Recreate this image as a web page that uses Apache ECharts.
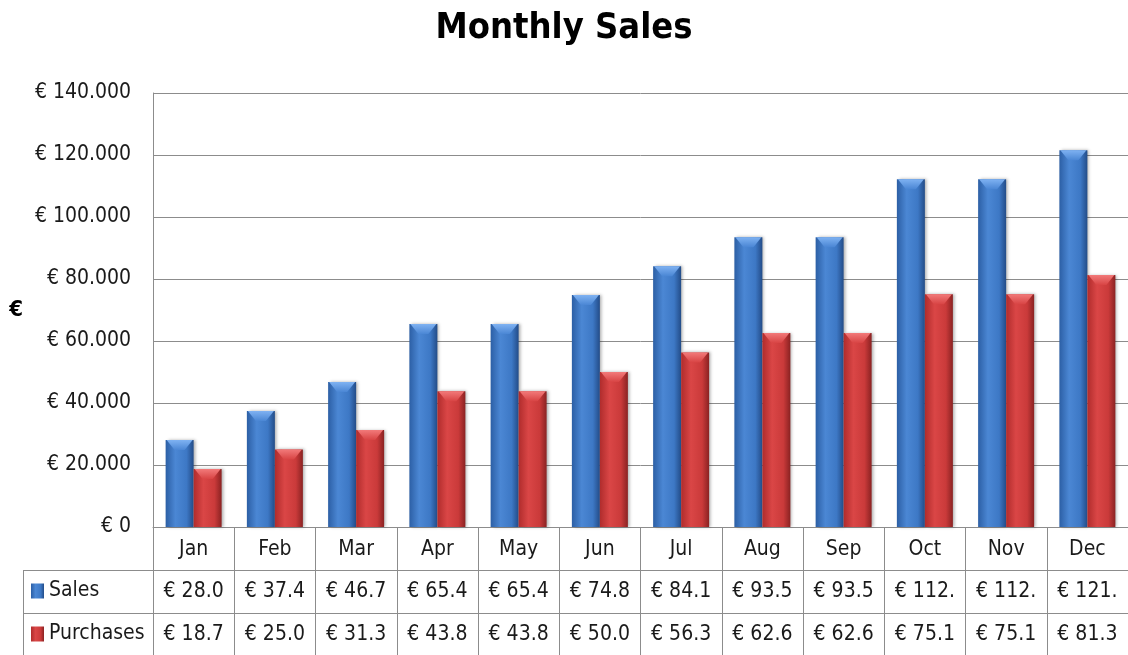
<!DOCTYPE html>
<html>
<head>
<meta charset="utf-8">
<script src="https://cdn.jsdelivr.net/npm/echarts@6/dist/echarts.min.js"></script>
<style>
  html, body { margin: 0; padding: 0; background: #fff; }
  #divChart { width: 1128px; height: 655px; }
</style>
</head>
<body>
<div id="divChart"></div>
<script>
var months = ['Jan', 'Feb', 'Mar', 'Apr', 'May', 'Jun', 'Jul', 'Aug', 'Sep', 'Oct', 'Nov', 'Dec'];
var salesValues = [28050, 37400, 46750, 65450, 65450, 74800, 84150, 93500, 93500, 112200, 112200, 121550];
var purchaseValues = [18700, 25030, 31300, 43800, 43800, 50000, 56300, 62600, 62600, 75100, 75100, 81300];
var yMin = 0, yMax = 140000, yStep = 20000;

var FONT = '"Liberation Sans Narrow", "DejaVu Sans Condensed", Roboto, sans-serif';
var TXT = '#1a1a1a';
var LINE = '#8c8c8c';
var BAR_W = 28;

function euro(v) {
    return String(Math.round(v)).replace(/\B(?=(\d{3})+(?!\d))/g, '.');
}
// the table cells clip the text, like in the original sheet
function cellText(v) {
    return ('€ ' + euro(v)).slice(0, 6);
}

function grad(c1, c2, c3, c4) {
    return new echarts.graphic.LinearGradient(0, 0, 1, 0, [
        { offset: 0, color: c1 },
        { offset: 0.35, color: c2 },
        { offset: 0.75, color: c3 },
        { offset: 1, color: c4 }
    ]);
}
function capGrad(c1, c2) {
    return new echarts.graphic.LinearGradient(0, 0, 0, 1, [
        { offset: 0, color: c1 },
        { offset: 1, color: c2 }
    ]);
}

var blueFill = grad('#2c5fa5', '#4b87d4', '#3d78c5', '#234c88');
var redFill = grad('#b02c2c', '#da4646', '#ca3a3a', '#8a2222');

// bar with a bevelled cap; side = -1 left of the category centre, 1 right
function bevelBar(side, fill, cap) {
    return function (params, api) {
        var top = api.coord([api.value(0), api.value(1)]);
        var base = api.coord([api.value(0), 0]);
        var x0 = side < 0 ? top[0] - BAR_W : top[0];
        var x1 = x0 + BAR_W;
        var y0 = top[1], y1 = base[1];
        var h = Math.min(10, (y1 - y0) / 2);
        return {
            type: 'group',
            children: [
                {
                    type: 'rect',
                    shape: { x: x0, y: y0, width: BAR_W, height: y1 - y0 },
                    style: { fill: fill, shadowColor: 'rgba(0,0,0,0.3)', shadowBlur: 3, shadowOffsetX: 2 }
                },
                {
                    type: 'polygon',
                    shape: { points: [[x0 + 1, y0], [x1 - 1, y0], [x1 - 9, y0 + h], [x0 + 9, y0 + h]] },
                    style: { fill: cap }
                }
            ]
        };
    };
}

var myChart = echarts.init(document.getElementById('divChart'));

var option = {
    animation: false,
    textStyle: { fontFamily: FONT },
    title: {
        text: 'Monthly Sales',
        left: 'center',
        top: 6,
        textStyle: { fontSize: 36, fontWeight: 'bold', color: '#000', fontFamily: FONT }
    },
    legend: {
        orient: 'vertical',
        left: 31,
        top: 579,
        padding: 0,
        itemWidth: 13,
        itemHeight: 15,
        itemGap: 19,
        icon: 'rect',
        textStyle: { fontSize: 21, color: TXT, lineHeight: 24, fontFamily: FONT },
        data: ['Sales', 'Purchases']
    },
    grid: {
        left: 153,
        top: 93,
        width: 980,
        height: 434
    },
    xAxis: [
        {
            type: 'category',
            data: months,
            position: 'bottom',
            axisLine: { show: true, lineStyle: { color: LINE } },
            axisTick: { show: true, interval: 0, length: 130, lineStyle: { color: LINE } },
            axisLabel: { interval: 0, margin: 12, fontSize: 21, color: TXT, fontFamily: FONT }
        },
        {
            type: 'category',
            data: salesValues.map(cellText),
            position: 'bottom',
            offset: 43,
            axisLine: { show: true, lineStyle: { color: LINE } },
            axisTick: { show: false },
            axisLabel: { interval: 0, margin: 11, fontSize: 21, color: TXT, fontFamily: FONT }
        },
        {
            type: 'category',
            data: purchaseValues.map(cellText),
            position: 'bottom',
            offset: 86,
            axisLine: { show: true, lineStyle: { color: LINE } },
            axisTick: { show: false },
            axisLabel: { interval: 0, margin: 11, fontSize: 21, color: TXT, fontFamily: FONT }
        }
    ],
    yAxis: {
        type: 'value',
        min: yMin,
        max: yMax,
        interval: yStep,
        name: '€',
        nameLocation: 'middle',
        nameGap: 130,
        nameRotate: 0,
        nameTextStyle: { fontSize: 22, fontWeight: 'bold', color: '#000', fontFamily: FONT },
        axisLine: { show: true, lineStyle: { color: LINE } },
        axisTick: { show: false },
        splitLine: { lineStyle: { color: LINE } },
        axisLabel: {
            margin: 22,
            fontSize: 21,
            color: TXT,
            fontFamily: FONT,
            formatter: function (v) { return '€ ' + euro(v); }
        }
    },
    graphic: [
        { type: 'line', shape: { x1: 23, y1: 570.5, x2: 153, y2: 570.5 }, style: { stroke: LINE, lineWidth: 1 } },
        { type: 'line', shape: { x1: 23, y1: 613.5, x2: 153, y2: 613.5 }, style: { stroke: LINE, lineWidth: 1 } },
        { type: 'line', shape: { x1: 23.5, y1: 570, x2: 23.5, y2: 655 }, style: { stroke: LINE, lineWidth: 1 } }
    ],
    series: [
        {
            name: 'Sales',
            type: 'custom',
            data: salesValues.map(function (v, i) { return [i, v]; }),
            encode: { x: 0, y: 1 },
            itemStyle: { color: blueFill },
            renderItem: bevelBar(-1, blueFill, capGrad('#7fb2f2', '#4a86d4'))
        },
        {
            name: 'Purchases',
            type: 'custom',
            data: purchaseValues.map(function (v, i) { return [i, v]; }),
            encode: { x: 0, y: 1 },
            itemStyle: { color: redFill },
            renderItem: bevelBar(1, redFill, capGrad('#f27a7a', '#d84444'))
        }
    ]
};

myChart.setOption(option);
</script>
</body>
</html>
